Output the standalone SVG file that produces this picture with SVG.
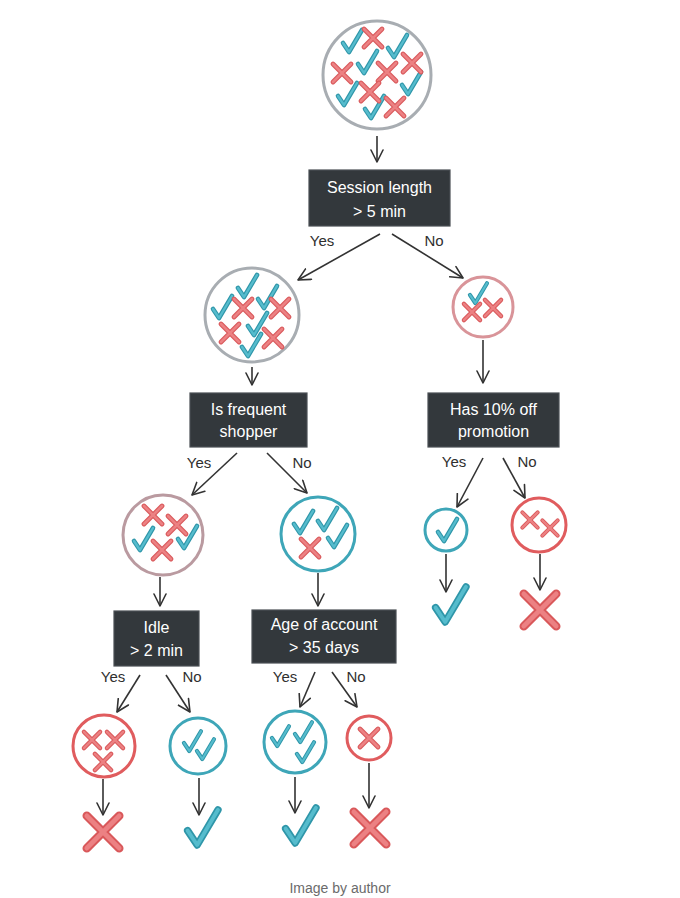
<svg xmlns="http://www.w3.org/2000/svg" width="680" height="898" viewBox="0 0 680 898">
<style>
.box{fill:#33383c;stroke:#4a4f54;stroke-width:1.2}
.bt{font-family:"Liberation Sans",Arial,sans-serif;font-size:16px;fill:#ffffff;text-anchor:middle}
.lbl{font-family:"Liberation Sans",Arial,sans-serif;font-size:15px;fill:#2f2f2f;text-anchor:middle}
.cg{fill:#ffffff;stroke:#a8adb2;stroke-width:3}
.cp{fill:#ffffff;stroke:#d99499;stroke-width:3}
.cm{fill:#ffffff;stroke:#ba9aa0;stroke-width:3}
.ct{fill:#ffffff;stroke:#3ea6b8;stroke-width:3}
.cr{fill:#ffffff;stroke:#e05c5e;stroke-width:3}
.con line{stroke:#333333;stroke-width:1.6;marker-end:url(#ah)}
.cap{font-family:"Liberation Sans",Arial,sans-serif;font-size:14px;fill:#6b6b6b;text-anchor:middle}
.ko{fill:none;stroke:#2f96a9;stroke-width:4.6;stroke-linecap:round;stroke-linejoin:round}
.ki{fill:none;stroke:#56bccd;stroke-width:2.4;stroke-linecap:round;stroke-linejoin:round}
.xo{fill:none;stroke:#d9585a;stroke-width:4.8;stroke-linecap:round}
.xi{fill:none;stroke:#ec8183;stroke-width:2.6;stroke-linecap:round}
</style>
<defs>
<marker id="ah" viewBox="0 0 14 14" refX="13" refY="7" markerWidth="14" markerHeight="14" markerUnits="userSpaceOnUse" orient="auto">
<path d="M1,1 L13,7 L1,13" fill="none" stroke="#333333" stroke-width="1.6" stroke-linecap="round" stroke-linejoin="round"/>
</marker>
<g id="chk"><path class="ko" d="M-9,1 L-3,10 L10,-12"/><path class="ki" d="M-9,1 L-3,10 L10,-12"/></g>
<g id="crs"><path class="xo" d="M-9,-9 L9,9 M9,-9 L-9,9"/><path class="xi" d="M-9,-9 L9,9 M9,-9 L-9,9"/></g>
</defs>

<g id="connectors" class="con">
<line x1="377" y1="136" x2="377" y2="162"/>
<line x1="380" y1="234" x2="298" y2="280"/>
<line x1="392" y1="234" x2="463" y2="278"/>
<line x1="252" y1="367" x2="252" y2="385"/>
<line x1="483" y1="340" x2="483" y2="383"/>
<line x1="237" y1="453" x2="192" y2="495"/>
<line x1="267" y1="453" x2="307" y2="493"/>
<line x1="160" y1="577" x2="160" y2="606"/>
<line x1="318" y1="573" x2="318" y2="606"/>
<line x1="483" y1="458" x2="457" y2="507"/>
<line x1="503" y1="458" x2="525" y2="498"/>
<line x1="446" y1="554" x2="446" y2="592"/>
<line x1="540" y1="554" x2="540" y2="590"/>
<line x1="140" y1="675" x2="117" y2="712"/>
<line x1="166" y1="675" x2="190" y2="712"/>
<line x1="315" y1="672" x2="300" y2="707"/>
<line x1="332" y1="672" x2="357" y2="707"/>
<line x1="103" y1="779" x2="103" y2="815"/>
<line x1="199" y1="778" x2="199" y2="815"/>
<line x1="295" y1="777" x2="295" y2="813"/>
<line x1="369" y1="763" x2="369" y2="808"/>
</g>

<g id="edge-labels">
<text class="lbl" x="322" y="246">Yes</text>
<text class="lbl" x="434" y="246">No</text>
<text class="lbl" x="199" y="468">Yes</text>
<text class="lbl" x="302" y="468">No</text>
<text class="lbl" x="454" y="467">Yes</text>
<text class="lbl" x="527" y="467">No</text>
<text class="lbl" x="113" y="682">Yes</text>
<text class="lbl" x="192" y="682">No</text>
<text class="lbl" x="285" y="682">Yes</text>
<text class="lbl" x="356" y="682">No</text>
</g>

<g id="n_root">
<circle class="cg" cx="377" cy="75" r="54"/>
<use href="#chk" transform="translate(352,42)"/>
<use href="#chk" transform="translate(397,47)"/>
<use href="#chk" transform="translate(367,63)"/>
<use href="#chk" transform="translate(411,84)"/>
<use href="#chk" transform="translate(347,95)"/>
<use href="#chk" transform="translate(374,108)"/>
<use href="#crs" transform="translate(373,38)"/>
<use href="#crs" transform="translate(412,63)"/>
<use href="#crs" transform="translate(342,73)"/>
<use href="#crs" transform="translate(387,72)"/>
<use href="#crs" transform="translate(370,92)"/>
<use href="#crs" transform="translate(395,107)"/>
</g>

<g id="n_session">
<rect class="box" x="309" y="170" width="141" height="56"/>
<text class="bt" x="379.5" y="193">Session length</text>
<text class="bt" x="379.5" y="217">&gt; 5 min</text>
</g>

<g id="n_yes1">
<circle class="cg" cx="252" cy="315" r="47"/>
<use href="#chk" transform="translate(247,287)"/>
<use href="#chk" transform="translate(222,308)"/>
<use href="#chk" transform="translate(267,298)"/>
<use href="#chk" transform="translate(257,325)"/>
<use href="#chk" transform="translate(251,346)"/>
<use href="#crs" transform="translate(243,308)"/>
<use href="#crs" transform="translate(280,308)"/>
<use href="#crs" transform="translate(230,333)"/>
<use href="#crs" transform="translate(273,338)"/>
</g>

<g id="n_no1">
<circle class="cp" cx="483" cy="307" r="30"/>
<use href="#chk" transform="translate(478,294) scale(0.9)"/>
<use href="#crs" transform="translate(472,312) scale(0.9)"/>
<use href="#crs" transform="translate(493,308) scale(0.9)"/>
</g>

<g id="n_freq">
<rect class="box" x="190" y="393" width="117" height="54"/>
<text class="bt" x="248.5" y="415">Is frequent</text>
<text class="bt" x="248.5" y="437">shopper</text>
</g>

<g id="n_promo">
<rect class="box" x="428" y="393" width="131" height="54"/>
<text class="bt" x="493.5" y="415">Has 10% off</text>
<text class="bt" x="493.5" y="437">promotion</text>
</g>

<g id="n_freq_yes">
<circle class="cm" cx="163" cy="535" r="40"/>
<use href="#crs" transform="translate(153,515)"/>
<use href="#crs" transform="translate(177,525)"/>
<use href="#chk" transform="translate(143,540)"/>
<use href="#crs" transform="translate(162,550)"/>
<use href="#chk" transform="translate(187,538)"/>
</g>

<g id="n_freq_no">
<circle class="ct" cx="318" cy="534" r="37"/>
<use href="#chk" transform="translate(303,523)"/>
<use href="#chk" transform="translate(327,520)"/>
<use href="#crs" transform="translate(310,548)"/>
<use href="#chk" transform="translate(337,537)"/>
</g>

<g id="n_promo_yes">
<circle class="ct" cx="446" cy="530" r="21"/>
<use href="#chk" transform="translate(447,531)"/>
</g>

<g id="n_promo_no">
<circle class="cr" cx="539" cy="525" r="27"/>
<use href="#crs" transform="translate(530,520) scale(0.85)"/>
<use href="#crs" transform="translate(550,528) scale(0.85)"/>
</g>

<g id="n_idle">
<rect class="box" x="114" y="611" width="85" height="55"/>
<text class="bt" x="156.5" y="633">Idle</text>
<text class="bt" x="156.5" y="656">&gt; 2 min</text>
</g>

<g id="n_age">
<rect class="box" x="252" y="610" width="144" height="53"/>
<text class="bt" x="324" y="630">Age of account</text>
<text class="bt" x="324" y="653">&gt; 35 days</text>
</g>

<g id="n_idle_yes">
<circle class="cr" cx="104" cy="746" r="31"/>
<use href="#crs" transform="translate(92,740) scale(0.9)"/>
<use href="#crs" transform="translate(115,740) scale(0.9)"/>
<use href="#crs" transform="translate(103,762) scale(0.9)"/>
</g>

<g id="n_idle_no">
<circle class="ct" cx="198" cy="746" r="28"/>
<use href="#chk" transform="translate(192,742) scale(0.9)"/>
<use href="#chk" transform="translate(205,750) scale(0.9)"/>
</g>

<g id="n_age_yes">
<circle class="ct" cx="295" cy="742" r="31"/>
<use href="#chk" transform="translate(280,737) scale(0.9)"/>
<use href="#chk" transform="translate(303,733) scale(0.9)"/>
<use href="#chk" transform="translate(305,753) scale(0.9)"/>
</g>

<g id="n_age_no">
<circle class="cr" cx="369" cy="738" r="22"/>
<use href="#crs" transform="translate(369,738)"/>
</g>

<g id="leaf_idle_yes"><use href="#crs" transform="translate(103,832) scale(1.8)"/></g>
<g id="leaf_idle_no"><use href="#chk" transform="translate(202,829) scale(1.6)"/></g>
<g id="leaf_age_yes"><use href="#chk" transform="translate(300,827) scale(1.6)"/></g>
<g id="leaf_age_no"><use href="#crs" transform="translate(370,828) scale(1.8)"/></g>
<g id="leaf_promo_yes"><use href="#chk" transform="translate(450,606) scale(1.6)"/></g>
<g id="leaf_promo_no"><use href="#crs" transform="translate(540,610) scale(1.8)"/></g>

<text class="cap" x="340" y="893">Image by author</text>
</svg>
